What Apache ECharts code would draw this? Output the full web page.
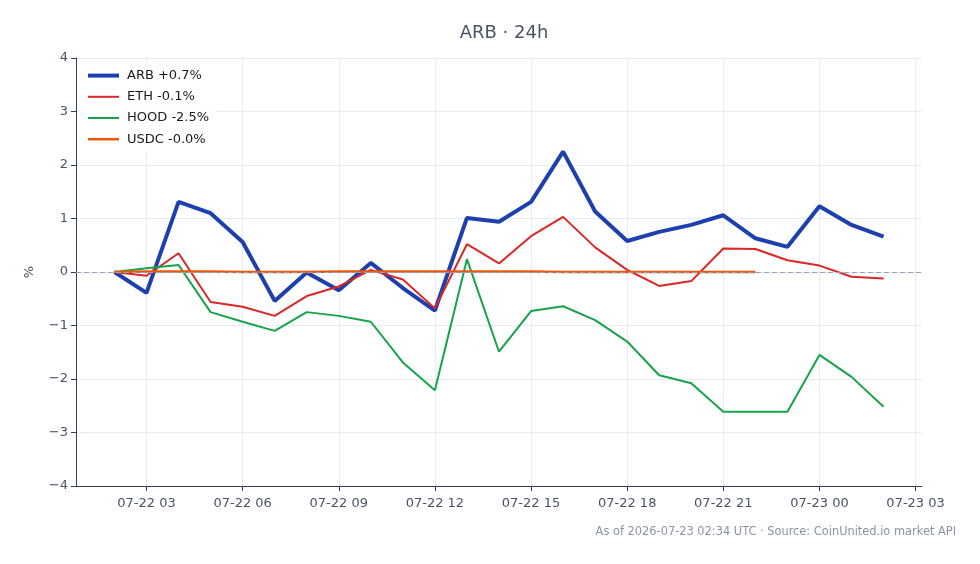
<!DOCTYPE html>
<html>
<head>
<meta charset="utf-8">
<title>ARB · 24h</title>
<script src="https://cdn.jsdelivr.net/npm/echarts@6/dist/echarts.min.js"></script>
<style>
  html, body { margin: 0; padding: 0; background: #fff; }
  #main { width: 980px; height: 564px; }
</style>
</head>
<body>
<div id="main"></div>
<script>
// hourly snapshots (UTC)
const times = [
  '2026-07-22T02:00:00Z', '2026-07-22T03:00:00Z', '2026-07-22T04:00:00Z', '2026-07-22T05:00:00Z',
  '2026-07-22T06:00:00Z', '2026-07-22T07:00:00Z', '2026-07-22T08:00:00Z', '2026-07-22T09:00:00Z',
  '2026-07-22T10:00:00Z', '2026-07-22T11:00:00Z', '2026-07-22T12:00:00Z', '2026-07-22T13:00:00Z',
  '2026-07-22T14:00:00Z', '2026-07-22T15:00:00Z', '2026-07-22T16:00:00Z', '2026-07-22T17:00:00Z',
  '2026-07-22T18:00:00Z', '2026-07-22T19:00:00Z', '2026-07-22T20:00:00Z', '2026-07-22T21:00:00Z',
  '2026-07-22T22:00:00Z', '2026-07-22T23:00:00Z', '2026-07-23T00:00:00Z', '2026-07-23T01:00:00Z',
  '2026-07-23T02:00:00Z'
]

// x tick labels, every 3 hours
const xTicks = [
  '2026-07-22T03:00:00Z', '2026-07-22T06:00:00Z', '2026-07-22T09:00:00Z', '2026-07-22T12:00:00Z',
  '2026-07-22T15:00:00Z', '2026-07-22T18:00:00Z', '2026-07-22T21:00:00Z', '2026-07-23T00:00:00Z',
  '2026-07-23T03:00:00Z'
]

// % change since first point
const arb = [0, -0.39, 1.31, 1.10, 0.56, -0.54, -0.01, -0.34, 0.17, -0.30, -0.72, 1.01, 0.94,
  1.31, 2.25, 1.13, 0.58, 0.75, 0.88, 1.06, 0.63, 0.47, 1.23, 0.88, 0.66]
const eth = [0, -0.07, 0.35, -0.56, -0.65, -0.82, -0.45, -0.27, 0.04, -0.14, -0.68, 0.52, 0.16,
  0.67, 1.03, 0.46, 0.04, -0.26, -0.17, 0.44, 0.43, 0.22, 0.12, -0.09, -0.12]
const hood = [0, 0.07, 0.13, -0.75, -0.93, -1.10, -0.75, -0.82, -0.93, -1.69, -2.21, 0.24, -1.49,
  -0.73, -0.64, -0.90, -1.30, -1.93, -2.08, -2.61, -2.61, -2.61, -1.55, -1.96, -2.52]
// USDC feed stops at 22:00
const usdc = [0, 0.01, 0.01, 0.01, 0.0, 0.0, 0.0, 0.01, 0.01, 0.01, 0.01, 0.01, 0.01,
  0.01, 0.0, 0.0, 0.0, 0.0, 0.0, 0.0, 0.0]

const names = ['ARB +0.7%', 'ETH -0.1%', 'HOOD -2.5%', 'USDC -0.0%']
const colors = ['#1e40af', '#dc2626', '#16a34a', '#ea580c']
const widths = [4, 2, 2, 2.5]
const yTicks = [-4, 4, 1] // min, max, step

const ts = (s) => new Date(s).getTime()
const pair = (vals) => vals.map((v, i) => [ts(times[i]), v])

const t0 = ts(times[0])
const t1 = ts(times[times.length - 1])
const pad = (t1 - t0) * 0.05
const tickVals = xTicks.map(ts)

const init = () => {
  const myChart = echarts.init(document.getElementById('main'))
  const font = 'DejaVu Sans'
  const lineSeries = (i, vals) => ({
    name: names[i],
    type: 'line',
    data: pair(vals),
    showSymbol: false,
    lineStyle: { width: widths[i], color: colors[i] },
    itemStyle: { color: colors[i] }
  })
  const arbSeries = lineSeries(0, arb)
  // dashed zero reference
  arbSeries.markLine = {
    silent: true,
    symbol: 'none',
    label: { show: false },
    lineStyle: { type: [5, 3], color: '#94a3b8', width: 1 },
    data: [{ yAxis: 0 }]
  }
  const option = {
    animation: false,
    textStyle: { fontFamily: font },
    title: {
      text: 'ARB · 24h',
      left: 499,
      top: 19,
      textAlign: 'center',
      textStyle: { fontSize: 18, fontWeight: 'normal', color: '#4a5568', fontFamily: font }
    },
    legend: {
      data: names.map((n, i) => ({ name: n, lineStyle: { width: widths[i], color: colors[i] } })),
      orient: 'vertical',
      left: 80,
      top: 63,
      padding: [6, 8, 6, 6],
      itemWidth: 31,
      itemHeight: 14,
      itemGap: 8,
      itemStyle: { opacity: 0 },
      backgroundColor: 'rgba(255,255,255,0.85)',
      textStyle: { fontSize: 13, color: '#1a1a1a', fontFamily: font, padding: [0, 0, 0, 3] }
    },
    grid: { left: 76, right: 58, top: 58, bottom: 78 },
    xAxis: {
      type: 'value',
      min: t0 - pad,
      max: t1 + pad,
      axisLine: { show: true, onZero: false, lineStyle: { color: '#334155' } },
      axisTick: { show: true, length: 5, customValues: tickVals, lineStyle: { color: '#334155' } },
      splitLine: { show: true, lineStyle: { color: '#e8ebf0' } },
      axisLabel: {
        customValues: tickVals,
        color: '#475569',
        fontSize: 13,
        margin: 11,
        fontFamily: font,
        formatter: function (value) {
          const d = new Date(value)
          const p = (n) => String(n).padStart(2, '0')
          return p(d.getUTCMonth() + 1) + '-' + p(d.getUTCDate()) + ' ' + p(d.getUTCHours())
        }
      }
    },
    yAxis: {
      type: 'value',
      min: yTicks[0],
      max: yTicks[1],
      interval: yTicks[2],
      name: '%',
      nameLocation: 'middle',
      nameGap: 40,
      nameTextStyle: { color: '#475569', fontSize: 13, fontFamily: font },
      axisLine: { show: true, lineStyle: { color: '#334155' } },
      axisTick: { show: true, length: 5, lineStyle: { color: '#334155' } },
      splitLine: { show: true, lineStyle: { color: '#e8ebf0' } },
      axisLabel: {
        color: '#475569',
        fontSize: 13,
        margin: 8,
        fontFamily: font,
        formatter: (v) => String(v).replace('-', '\u2212')
      }
    },
    series: [
      arbSeries,
      lineSeries(1, eth),
      lineSeries(2, hood),
      lineSeries(3, usdc)
    ],
    graphic: [
      {
        type: 'text',
        right: 24,
        top: 527,
        style: {
          text: 'As of 2026-07-23 02:34 UTC · Source: CoinUnited.io market API',
          fill: '#8a94a6',
          fontSize: 11.4,
          fontFamily: font
        }
      }
    ]
  }

  option && myChart.setOption(option)
}

init()
</script>
</body>
</html>
